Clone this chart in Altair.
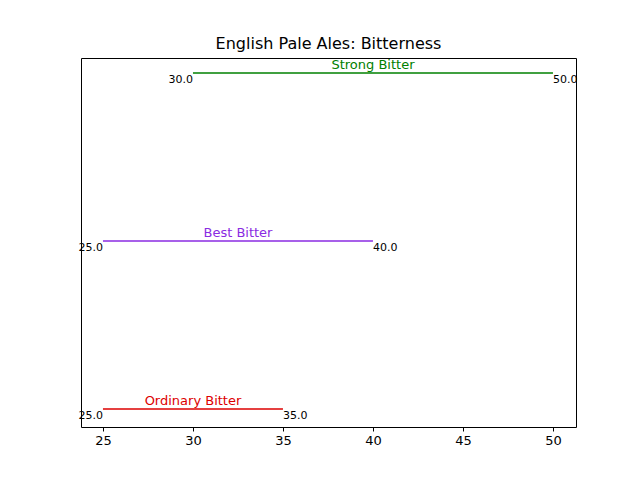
import pandas as pd
import altair as alt

styles = ["Ordinary Bitter", "Best Bitter", "Strong Bitter"]
ibu_low = [25, 25, 30]
ibu_high = [35, 40, 50]
colors = ["#dd0000", "#8a2be2", "#008000"]

df = pd.DataFrame({"style": styles, "low": ibu_low, "high": ibu_high,
                   "pos": [0, 1, 2], "color": colors})
df["mid"] = (df["low"] + df["high"]) / 2
df["low_lbl"] = df["low"].map(lambda v: f"{v:.1f}")
df["high_lbl"] = df["high"].map(lambda v: f"{v:.1f}")

x = alt.X("low:Q", scale=alt.Scale(domain=[23.78, 51.28], nice=False, zero=False),
          axis=alt.Axis(values=[25, 30, 35, 40, 45, 50], format="d", title=None, grid=False,
                        labelFontSize=13, labelColor="black", tickColor="black",
                        tickSize=4, domain=False, labelPadding=3))
y = alt.Y("pos:Q", scale=alt.Scale(domain=[-0.107, 2.089], nice=False),
          axis=None)

base = alt.Chart(df)
rules = base.mark_rule(strokeWidth=1.5).encode(x=x, x2="high:Q", y=y,
                                               color=alt.Color("color:N", scale=None))
names = base.mark_text(dy=-8, fontSize=13).encode(
    x="mid:Q", y="pos:Q", text="style:N", color=alt.Color("color:N", scale=None))
lows = base.mark_text(align="right", baseline="top", dy=1, fontSize=11, color="black").encode(
    x="low:Q", y="pos:Q", text="low_lbl:N")
highs = base.mark_text(align="left", baseline="top", dy=1, fontSize=11, color="black").encode(
    x="high:Q", y="pos:Q", text="high_lbl:N")

chart = (rules + names + lows + highs).properties(
    width=495, height=369,
    autosize=alt.AutoSizeParams(type="none"),
    padding={"left": 73, "top": 50, "right": 56, "bottom": 45},
    title=alt.TitleParams("English Pale Ales: Bitterness", fontSize=16, fontWeight="normal",
                          font="DejaVu Sans", color="black", offset=6),
).configure_view(stroke="black", strokeWidth=1
).configure_text(font="DejaVu Sans"
).configure_axis(labelFont="DejaVu Sans")

chart.save("out.html", embed_options={"renderer": "svg", "actions": False})
